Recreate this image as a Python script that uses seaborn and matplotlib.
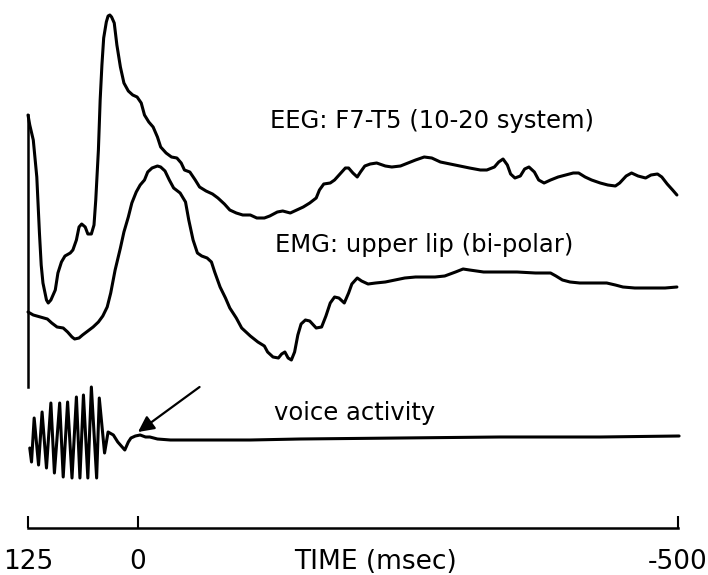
import numpy as np
import matplotlib
matplotlib.use("Agg")
import matplotlib.pyplot as plt
import seaborn as sns

# time in msec (125 before onset ... -500 after), amplitudes in arbitrary units
eeg_time = [125, 123, 119, 117, 115, 112, 110, 108, 104, 102,
            99, 94, 91, 87, 83, 77, 74, 70, 67, 64,
            60, 57, 53, 50, 48, 45, 43, 41, 39, 36,
            34, 32, 30, 27, 24, 20, 16, 11, 6, 1,
            -3, -6, -10, -14, -18, -21, -26, -31, -36, -40,
            -43, -48, -53, -57, -63, -69, -74, -80, -85, -91,
            -97, -104, -110, -117, -122, -129, -134, -141, -147, -153,
            -159, -165, -168, -172, -178, -182, -187, -192, -195, -199,
            -203, -206, -210, -215, -221, -229, -235, -243, -250, -257,
            -265, -272, -280, -289, -298, -307, -317, -323, -330, -334,
            -338, -342, -345, -349, -354, -358, -362, -367, -371, -376,
            -382, -389, -396, -403, -408, -414, -420, -428, -435, -442,
            -446, -452, -457, -463, -470, -475, -481, -485, -490, -495,
            -499]
eeg_amp = [460, 450, 435, 417, 398, 342, 310, 292, 275, 272,
           275, 285, 302, 313, 319, 322, 325, 335, 348, 351,
           348, 341, 341, 350, 375, 425, 475, 510, 537, 553,
           559, 560, 558, 552, 530, 508, 492, 484, 480, 478,
           472, 460, 453, 448, 438, 428, 422, 418, 417, 412,
           405, 403, 395, 388, 384, 381, 377, 371, 365, 362,
           360, 360, 357, 357, 359, 363, 364, 362, 365, 368,
           372, 377, 385, 391, 392, 395, 401, 407, 407, 402,
           398, 403, 409, 411, 412, 409, 408, 409, 412, 415,
           418, 417, 413, 411, 409, 407, 405, 405, 408, 413,
           416, 410, 401, 397, 399, 406, 408, 403, 395, 392,
           395, 398, 400, 402, 402, 398, 395, 392, 390, 389,
           392, 399, 402, 399, 397, 400, 401, 398, 391, 385,
           380]

emg_time = [125, 119, 111, 103, 98, 92, 85, 80, 75, 72,
            67, 63, 57, 51, 45, 40, 35, 31, 26, 20,
            16, 11, 7, 2, -2, -6, -9, -13, -18, -21,
            -25, -29, -33, -39, -44, -47, -51, -55, -59, -64,
            -68, -71, -76, -81, -85, -91, -96, -104, -111, -117,
            -120, -125, -130, -133, -136, -139, -142, -145, -148, -151,
            -155, -159, -165, -170, -174, -178, -182, -186, -191, -195,
            -198, -203, -207, -213, -220, -229, -238, -247, -257, -266,
            -275, -284, -294, -301, -307, -320, -335, -351, -368, -382,
            -387, -393, -400, -409, -423, -434, -442, -449, -460, -474,
            -488, -499]
emg_amp = [263, 260, 258, 256, 252, 248, 247, 243, 238, 236,
           237, 240, 244, 248, 253, 259, 268, 282, 305, 327,
           343, 358, 372, 383, 390, 395, 403, 407, 409, 408,
           404, 395, 387, 382, 373, 355, 335, 322, 319, 317,
           313, 303, 288, 277, 267, 257, 247, 239, 233, 229,
           223, 218, 217, 221, 223, 217, 215, 223, 240, 251,
           255, 254, 247, 248, 259, 272, 278, 277, 272, 282,
           291, 297, 294, 291, 292, 293, 295, 297, 298, 298,
           298, 299, 303, 306, 305, 303, 303, 303, 302, 302,
           299, 295, 293, 292, 292, 292, 290, 288, 287, 287,
           287, 288]

voice_time = [123, 121, 118, 113, 109, 104, 99, 95, 89, 85,
              80, 75, 70, 66, 62, 57, 53, 47, 44, 38,
              34, 28, 23, 18, 15, 11, 8, 3, -2, -7,
              -11, -18, -30, -57, -104, -150, -243, -335, -428, -501]
voice_amp = [127, 113, 157, 110, 163, 107, 172, 102, 172, 98,
             173, 97, 178, 97, 180, 97, 188, 97, 177, 122,
             143, 140, 133, 128, 125, 133, 137, 139, 140, 138,
             138, 136, 135, 135, 135, 136, 137, 138, 138, 139]

time_ticks = [125, 0, -500]
time_labels = ["125", "0", "-500"]


# the original time axis is not linear: the 125 ms before onset are drawn
# a bit compressed compared with the 500 ms after it
def fwd(t):
    t = np.asarray(t, dtype=float)
    return np.where(t >= 0, t * 0.88, t * 1.08)


def inv(u):
    u = np.asarray(u, dtype=float)
    return np.where(u >= 0, u / 0.88, u / 1.08)


sns.set_theme(style="white")
plt.rcParams["font.family"] = ["DejaVu Sans"]

fig = plt.figure(figsize=(7.08, 5.75), dpi=100)
ax = fig.add_axes([28 / 708, 47 / 575, 650 / 708, 528 / 575])

lw = 2.2
sns.lineplot(x=eeg_time, y=eeg_amp, sort=False, estimator=None, color="black",
             lw=lw, ax=ax, clip_on=False)
sns.lineplot(x=emg_time, y=emg_amp, sort=False, estimator=None, color="black",
             lw=lw, ax=ax, clip_on=False)
sns.lineplot(x=voice_time, y=voice_amp, sort=False, estimator=None, color="black",
             lw=lw, ax=ax, clip_on=False)

ax.set_xscale("function", functions=(fwd, inv))
ax.set_xlim(125, -500)
ax.set_ylim(47, 575)

txt = dict(fontsize=17.5, ha="left", va="baseline", color="black")
ax.text(-122, 447, "EEG: F7-T5 (10-20 system)", **txt)
ax.text(-127, 323, "EMG: upper lip (bi-polar)", **txt)
ax.text(-126, 155, "voice activity", **txt)

# arrow to voice onset
ax.annotate("", xy=(0, 143), xytext=(-57, 188),
            arrowprops=dict(arrowstyle="-|>", color="black", lw=1.6,
                            mutation_scale=24, shrinkA=0, shrinkB=0))

# axes: bottom time axis with inward ticks, short marker line on the left
for s in ["top", "right"]:
    ax.spines[s].set_visible(False)
ax.spines["left"].set_bounds(188, 460)
ax.spines["left"].set_linewidth(1.8)
ax.spines["left"].set_color("black")
ax.spines["bottom"].set_linewidth(1.8)
ax.spines["bottom"].set_color("black")

ax.set_xticks(time_ticks)
ax.set_xticklabels(time_labels)
ax.minorticks_off()
ax.set_yticks([])
ax.tick_params(axis="x", direction="in", length=9, width=1.5, color="black",
               pad=15, labelsize=19, labelcolor="black", bottom=True)
ax.set_xlabel("TIME (msec)", fontsize=19, color="black")
ax.xaxis.set_label_coords((375 - 28) / 650, -21 / 528)

fig.savefig("out.png", dpi=100, facecolor="white")
